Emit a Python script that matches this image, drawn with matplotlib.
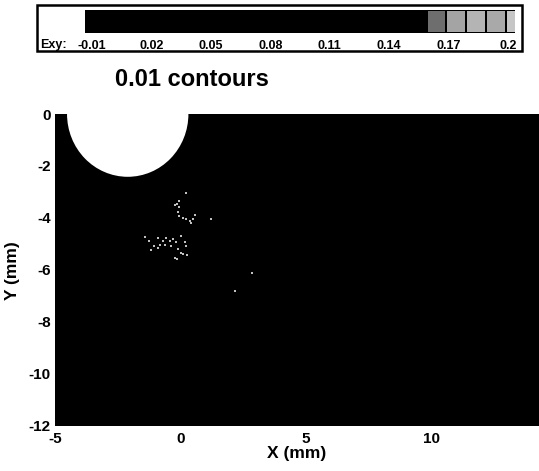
import numpy as np
import matplotlib
matplotlib.use("Agg")
import matplotlib.pyplot as plt
from matplotlib.colors import ListedColormap, BoundaryNorm
from matplotlib.patches import Circle, Rectangle

plt.rcParams["font.family"] = ["Liberation Sans", "DejaVu Sans"]
plt.rcParams["axes.unicode_minus"] = False

# Strain field (Exy) on a coarse grid -- everything sits in the low (black) band
x_grid = [-5, 0, 5, 10, 15]
y_grid = [-12, -8, -4, 0]
exy_field = [
    [0.03, 0.03, 0.02, 0.02, 0.02],
    [0.04, 0.05, 0.03, 0.02, 0.02],
    [0.05, 0.08, 0.04, 0.03, 0.02],
    [0.04, 0.06, 0.03, 0.02, 0.02],
]

# Contour levels (0.01 apart) and the colours of each band (greyscale print)
levels = [-0.021, -0.011, -0.001, 0.009, 0.019, 0.029, 0.039, 0.049, 0.059,
          0.069, 0.079, 0.089, 0.099, 0.109, 0.119, 0.129, 0.139, 0.149,
          0.159, 0.169, 0.179, 0.189, 0.199, 0.209]
band_colors = ["#000000"] * 18 + ["#6e6e6e", "#a4a4a4", "#b4b4b4", "#a9a9a9", "#c6c6c6"]
cbar_ticks = [-0.01, 0.02, 0.05, 0.08, 0.11, 0.14, 0.17, 0.2]
cbar_labels = ["-0.01", "0.02", "0.05", "0.08", "0.11", "0.14", "0.17", "0.2"]

# speckled traces of the higher contour lines
speck_x = [0.24, -0.05, -0.12, -0.23, -0.04, -0.09, -0.04, 0.11, 0.24, 0.37, 0.44,
           0.57, 0.50, 1.23, -1.42, -1.24, -1.04, -1.18, -0.88, -0.82, -0.91, -0.71,
           -0.62, -0.56, -0.42, -0.29, -0.16, 0.04, 0.17, 0.24, -0.09, 0.01, 0.11,
           0.28, -0.20, -0.12, -0.36, 2.85, 2.18]
speck_y = [-3.05, -3.35, -3.47, -3.51, -3.59, -3.78, -3.93, -3.99, -4.03, -4.12, -4.21,
           -3.90, -4.03, -4.05, -4.74, -4.89, -5.08, -5.24, -5.15, -5.06, -4.76, -4.89,
           -5.06, -4.76, -4.89, -4.83, -4.93, -4.72, -4.93, -5.08, -5.21, -5.34, -5.41,
           -5.44, -5.53, -5.60, -5.08, -6.14, -6.83]

hole_center = (-2.1, 0.0)
hole_radius = 2.42

cmap = ListedColormap(band_colors)
norm = BoundaryNorm(levels, cmap.N)

fig = plt.figure(figsize=(5.39, 4.71), dpi=100)

# main field
ax = fig.add_axes([55 / 539, 1 - 428 / 471, 1 - 55 / 539, (428 - 114) / 471])
X, Y = np.meshgrid(x_grid, y_grid)
ax.contourf(X, Y, np.array(exy_field), levels=levels, cmap=cmap, norm=norm)
ax.scatter(speck_x, speck_y, s=3, marker="s", color="#c0c0c0", linewidths=0)
ax.add_patch(Circle(hole_center, hole_radius, facecolor="white", edgecolor="none", zorder=3))
ax.set_xlim(-5, 14.3)
ax.set_ylim(-12.1, 0)
ax.set_xticks([-5, 0, 5, 10])
ax.set_yticks([0, -2, -4, -6, -8, -10, -12])
ax.tick_params(length=0, labelsize=11, pad=3)
for lab in ax.get_xticklabels() + ax.get_yticklabels():
    lab.set_fontweight("bold")
for sp in ax.spines.values():
    sp.set_visible(False)
ax.set_xlabel("X (mm)", fontsize=12.5, fontweight="bold", labelpad=0)
ax.set_ylabel("Y (mm)", fontsize=12.5, fontweight="bold", labelpad=6)

# colour bar strip at the top
cax = fig.add_axes([85 / 539, 1 - 33 / 471, (515 - 85) / 539, 23 / 471])
cax.pcolormesh(levels, [0, 1], np.array([levels[:-1]]) + 0.005, cmap=cmap, norm=norm,
               edgecolors="black", linewidth=1.2)
cax.set_xlim(-0.0135, 0.2036)
cax.set_ylim(0, 1)
cax.set_xticks([])
cax.set_yticks([])
for sp in cax.spines.values():
    sp.set_visible(False)
for t, lab in zip(cbar_ticks, cbar_labels):
    cax.text(t, -0.55, lab, ha="center", va="center", fontsize=9, fontweight="bold",
             transform=cax.transData)
fig.text(40 / 539, 1 - 45 / 471, "Exy:", ha="left", va="center", fontsize=9,
         fontweight="bold")
fig.patches.append(Rectangle((37 / 539, 1 - 51 / 471), (522 - 37) / 539, 46 / 471,
                             transform=fig.transFigure, fill=False,
                             edgecolor="black", linewidth=1.8))

fig.text(192 / 539, 1 - 79 / 471, "0.01 contours", ha="center", va="center",
         fontsize=17, fontweight="bold")

fig.savefig("out.png", dpi=100)
